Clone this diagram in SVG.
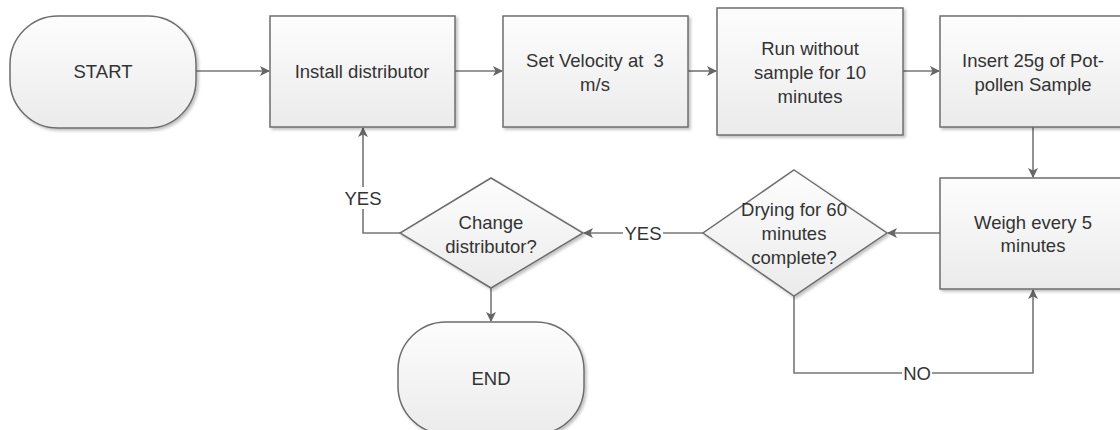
<svg xmlns="http://www.w3.org/2000/svg" width="1120" height="430" viewBox="0 0 1120 430">
<defs>
<linearGradient id="g" x1="0" y1="0" x2="0" y2="1">
<stop offset="0" stop-color="#fdfdfd"/>
<stop offset="1" stop-color="#ebebeb"/>
</linearGradient>
<filter id="sh" x="-10%" y="-10%" width="130%" height="130%">
<feGaussianBlur in="SourceAlpha" stdDeviation="1.5"/>
<feOffset dx="2" dy="2" result="b"/>
<feComponentTransfer><feFuncA type="linear" slope="0.25"/></feComponentTransfer>
<feMerge><feMergeNode/><feMergeNode in="SourceGraphic"/></feMerge>
</filter>
<marker id="ah" markerWidth="10" markerHeight="10" refX="9" refY="5" orient="auto" markerUnits="userSpaceOnUse">
<path d="M0,0 L10,5 L0,10 L2.5,5 Z" fill="#666"/>
</marker>
</defs>
<style>
.n{fill:url(#g);stroke:#6e6e6e;stroke-width:1.5;filter:url(#sh)}
.t{font-family:"Liberation Sans",Arial,sans-serif;font-size:18.5px;fill:#333;text-anchor:middle}
.c{fill:none;stroke:#777;stroke-width:1.6;marker-end:url(#ah)}
.cl{fill:none;stroke:#777;stroke-width:1.6}
.lb{fill:#fff}
</style>
<g id="connectors">
<path class="c" d="M196,71 H269"/>
<path class="c" d="M455,71 H502"/>
<path class="c" d="M688,71 H716"/>
<path class="c" d="M903,71 H939"/>
<path class="c" d="M1033,127 V177"/>
<path class="c" d="M940,233 H888"/>
<path class="c" d="M703,233 H584"/>
<path class="c" d="M400,233 H363 V128"/>
<path class="c" d="M491,288 V321"/>
<path class="c" d="M794,296 V373 H1033 V290"/>
<rect class="lb" x="623" y="222" width="40" height="22"/>
<text class="t" x="643" y="240">YES</text>
<rect class="lb" x="343" y="187" width="40" height="22"/>
<text class="t" x="363" y="205">YES</text>
<rect class="lb" x="902" y="362" width="30" height="22"/>
<text class="t" x="917" y="380">NO</text>
</g>
<g id="start">
<rect class="n" x="10" y="16" width="186" height="112" rx="48" ry="48"/>
<text class="t" x="103" y="78">START</text>
</g>
<g id="install">
<rect class="n" x="270" y="16" width="185" height="111"/>
<text class="t" x="362" y="78">Install distributor</text>
</g>
<g id="velocity">
<rect class="n" x="503" y="16" width="185" height="111"/>
<text class="t" x="595" y="67" xml:space="preserve">Set Velocity at  3</text>
<text class="t" x="595" y="91">m/s</text>
</g>
<g id="run">
<rect class="n" x="717" y="8" width="186" height="127"/>
<text class="t" x="810" y="55">Run without</text>
<text class="t" x="810" y="79">sample for 10</text>
<text class="t" x="810" y="103">minutes</text>
</g>
<g id="insert">
<rect class="n" x="940" y="16" width="186" height="111"/>
<text class="t" x="1033" y="67">Insert 25g of Pot-</text>
<text class="t" x="1033" y="91">pollen Sample</text>
</g>
<g id="weigh">
<rect class="n" x="940" y="178" width="186" height="111"/>
<text class="t" x="1033" y="229">Weigh every 5</text>
<text class="t" x="1033" y="252">minutes</text>
</g>
<g id="drying">
<polygon class="n" points="794,170 887,233 794,296 703,233"/>
<text class="t" x="794" y="216">Drying for 60</text>
<text class="t" x="794" y="240">minutes</text>
<text class="t" x="794" y="264">complete?</text>
</g>
<g id="change">
<polygon class="n" points="491,178 583,233 491,288 400,233"/>
<text class="t" x="491" y="229">Change</text>
<text class="t" x="491" y="253">distributor?</text>
</g>
<g id="end">
<rect class="n" x="398" y="322" width="186" height="112" rx="48" ry="48"/>
<text class="t" x="491" y="385">END</text>
</g>
</svg>
